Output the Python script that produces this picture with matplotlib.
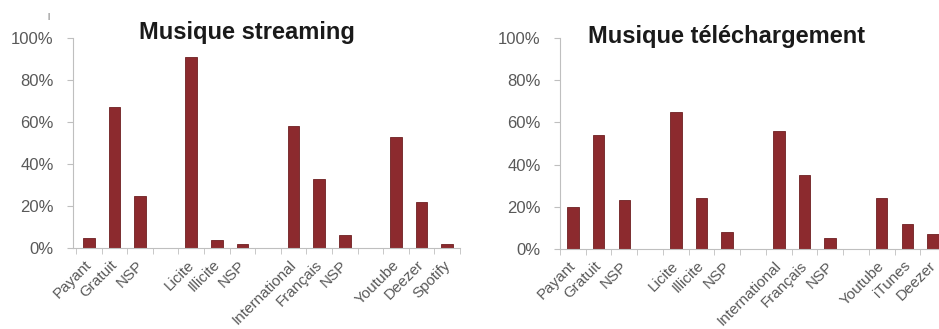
import numpy as np
import matplotlib
matplotlib.use('Agg')
import matplotlib.pyplot as plt
from matplotlib.ticker import FixedLocator

# categories (blank slots separate the groups)
cats_streaming = ['Payant', 'Gratuit', 'NSP', '', 'Licite', 'Illicite', 'NSP', '',
                  'International', 'Français', 'NSP', '', 'Youtube', 'Deezer', 'Spotify']
cats_telech = ['Payant', 'Gratuit', 'NSP', '', 'Licite', 'Illicite', 'NSP', '',
               'International', 'Français', 'NSP', '', 'Youtube', 'iTunes', 'Deezer']

# values in %, None for the blank slots
vals_streaming = [5, 67, 25, None, 91, 4, 2, None, 58, 33, 6, None, 53, 22, 2]
vals_telech = [20, 54, 23, None, 65, 24, 8, None, 56, 35, 5, None, 24, 12, 7]

yticks = [0, 20, 40, 60, 80, 100]

bar_color = '#8c2a2e'
grey = '#595959'
plt.rcParams['font.family'] = ['Liberation Sans', 'DejaVu Sans']

fig = plt.figure(figsize=(9.39, 3.29), dpi=100)
ax1 = fig.add_axes([73 / 939, 81 / 329, 387 / 939, 210 / 329])
ax2 = fig.add_axes([560 / 939, 80 / 329, 386 / 939, 211 / 329])


def draw(ax, cats, vals, xleft):
    x = np.arange(len(cats))
    heights = [v if v is not None else 0 for v in vals]
    ax.bar(x, heights, width=0.45, color=bar_color, edgecolor='#6e1f22', linewidth=0.6)
    ax.set_ylim(0, 100)
    ax.set_xlim(xleft, len(cats) - 0.5)
    ax.set_yticks(yticks)
    ax.set_yticklabels([f'{t}%' for t in yticks], fontsize=12, color=grey)
    # labels sit slightly left of the bar centre, as in the original
    ax.set_xticks(x - 0.17)
    ax.set_xticklabels(cats, rotation=45, ha='right', va='top', rotation_mode='anchor',
                       fontsize=11, color=grey)
    ax.tick_params(axis='x', which='major', length=0, pad=7)
    ax.xaxis.set_minor_locator(FixedLocator(np.arange(-0.5, len(cats) + 0.5, 1)))
    ax.tick_params(axis='x', which='minor', length=4, color='#bfbfbf', direction='out')
    ax.tick_params(axis='y', length=4, color='#bfbfbf', pad=10)
    for s in ['top', 'right']:
        ax.spines[s].set_visible(False)
    ax.spines['left'].set_color('#bfbfbf')
    ax.spines['bottom'].set_color('#bfbfbf')


draw(ax1, cats_streaming, vals_streaming, -0.62)
draw(ax2, cats_telech, vals_telech, -0.5)

fig.text(247 / 939, 1 - 33 / 329, 'Musique streaming', fontsize=17, fontweight='bold',
         color='#1a1a1a', ha='center', va='center')
fig.text(727 / 939, 1 - 37 / 329, 'Musique téléchargement', fontsize=17, fontweight='bold',
         color='#1a1a1a', ha='center', va='center')

fig.text(48 / 939, 1 - 16 / 329, '|', fontsize=6, color='#333333', ha='center', va='center')

fig.savefig('out.png', dpi=100)
